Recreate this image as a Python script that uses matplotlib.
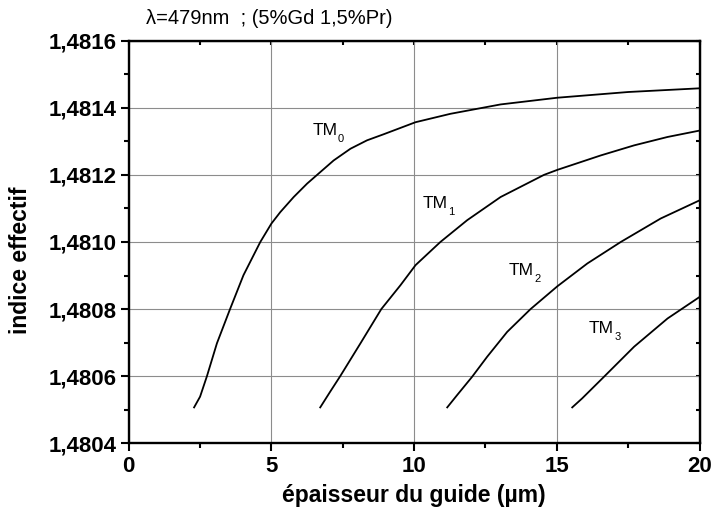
import matplotlib
matplotlib.use("Agg")
import matplotlib.pyplot as plt
from matplotlib.ticker import MultipleLocator, FuncFormatter

plt.rcParams['font.family'] = ['Liberation Sans', 'DejaVu Sans']

# values
tm0_x = [2.29, 2.50, 2.74, 3.09, 3.55, 4.02, 4.61, 5.0, 5.31, 5.78, 6.25, 6.6,
         7.18, 7.77, 8.35, 8.93, 10.05, 11.27, 13.03, 15.02, 17.5, 20.0]
tm0_y = [1.480507, 1.480539, 1.4806, 1.480698, 1.4808, 1.480901, 1.4810,
         1.481055, 1.481089, 1.481134, 1.481174, 1.4812, 1.481243, 1.481278,
         1.481303, 1.481321, 1.481357, 1.481382, 1.481410, 1.481430,
         1.481447, 1.481458]

tm1_x = [6.71, 7.06, 7.41, 8.12, 8.85, 9.52, 10.05, 10.92, 11.86, 13.03,
         14.55, 15.02, 16.54, 17.71, 18.88, 20.0]
tm1_y = [1.480507, 1.480554, 1.4806, 1.480698, 1.4808, 1.480871, 1.480931,
         1.4810, 1.481065, 1.481134, 1.4812, 1.481215, 1.481258, 1.481288,
         1.481313, 1.481332]

tm2_x = [11.16, 11.51, 12.03, 12.56, 13.26, 14.08, 15.02, 16.07, 17.24,
         18.64, 20.0]
tm2_y = [1.480507, 1.480544, 1.480598, 1.480658, 1.480732, 1.4808, 1.480868,
         1.480936, 1.4810, 1.481070, 1.481124]

tm3_x = [15.54, 15.89, 16.65, 17.71, 18.88, 20.0]
tm3_y = [1.480507, 1.480534, 1.480598, 1.480688, 1.480772, 1.480836]

modes = ['0', '1', '2', '3']

fig = plt.figure(figsize=(7.14, 5.11), dpi=100)
ax = fig.add_axes([0.1803, 0.1325, 0.7994, 0.7879])

for xs, ys in [(tm0_x, tm0_y), (tm1_x, tm1_y), (tm2_x, tm2_y), (tm3_x, tm3_y)]:
    ax.plot(xs, ys, color='black', lw=1.3, zorder=3, solid_joinstyle='round')

ax.set_xlim(0, 20)
ax.set_ylim(1.4804, 1.4816)
ax.xaxis.set_major_locator(MultipleLocator(5))
ax.xaxis.set_minor_locator(MultipleLocator(2.5))
ax.yaxis.set_major_locator(MultipleLocator(0.0002))
ax.yaxis.set_minor_locator(MultipleLocator(0.0001))
ax.yaxis.set_major_formatter(FuncFormatter(lambda v, p: ('%.4f' % v).replace('.', ',')))
ax.xaxis.set_major_formatter(FuncFormatter(lambda v, p: '%d' % round(v)))

ax.grid(True, which='major', color='#8c8c8c', lw=0.8)
ax.set_axisbelow(True)
for s in ax.spines.values():
    s.set_linewidth(1.7)

ax.tick_params(which='major', direction='out', length=6, width=1.5,
               labelsize=16, pad=3)
ax.tick_params(which='minor', direction='out', length=3.5, width=1.5)
for lab in ax.get_xticklabels() + ax.get_yticklabels():
    lab.set_fontweight('bold')

# short inward ticks mirrored on top and right
ax2 = ax.secondary_xaxis('top')
ax2.set_xticks([0, 5, 10, 15, 20])
ax2.xaxis.set_minor_locator(MultipleLocator(2.5))
ax2.tick_params(which='both', direction='in', length=3, width=1.5, labeltop=False)
ax3 = ax.secondary_yaxis('right')
ax3.yaxis.set_major_locator(MultipleLocator(0.0002))
ax3.yaxis.set_minor_locator(MultipleLocator(0.0001))
ax3.tick_params(which='both', direction='in', length=3, width=1.5, labelright=False)

ax.set_xlabel('épaisseur du guide (µm)', fontsize=16.5, fontweight='bold', labelpad=5)
ax.set_ylabel('indice effectif', fontsize=16.5, fontweight='bold')
ax.yaxis.set_label_coords(-0.169, 0.455)

# mode labels: "TM" plus a lowered small index
label_pos = [(6.43, 1.481318), (10.29, 1.4811003), (13.31, 1.480901), (16.12, 1.480728)]
for m, (lx, ly) in zip(modes, label_pos):
    ax.text(lx, ly, 'TM', fontsize=12.5, ha='left', va='baseline')
    ax.annotate(m, (lx, ly), xytext=(18.5, -5), textcoords='offset points',
                fontsize=8, ha='left', va='baseline')

fig.text(0.2045, 0.953, 'λ=479nm  ; (5%Gd 1,5%Pr)', fontsize=14.5,
         ha='left', va='baseline')

fig.savefig('out.png', dpi=100)
